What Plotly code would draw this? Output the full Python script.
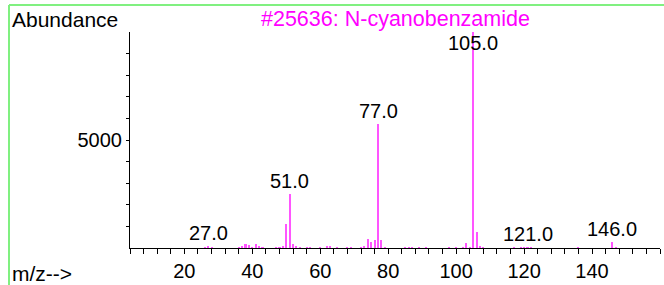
import plotly.graph_objects as go

# ---- data ----
mz = [26, 27, 28, 36, 37, 38, 39, 40, 41, 42, 43, 47, 48, 49, 50, 51, 52, 53, 54,
      56, 57, 60, 62, 63, 65, 68, 69, 72, 73, 74, 75, 76, 77, 78, 79, 85, 86, 87,
      89, 91, 98, 100, 102, 103, 104, 105, 106, 107, 108, 117, 119, 120, 121, 122,
      136, 146, 147]
abundance = [30, 110, 30, 30, 75, 200, 150, 40, 170, 50, 40, 30, 40, 110, 1090, 2500, 170, 60, 30,
             30, 40, 30, 50, 60, 30, 30, 30, 30, 110, 430, 280, 370, 5740, 385, 40, 30, 30, 30,
             30, 30, 30, 30, 30, 220, 40, 9990, 750, 50, 30, 30, 30, 30, 40, 30,
             30, 260, 40]
label_mz = [27, 51, 77, 105, 121, 146]
label_text = ["27.0", "51.0", "77.0", "105.0", "121.0", "146.0"]
title_text = "#25636: N-cyanobenzamide"
x_tick_vals = list(range(4, 161, 4))
x_tick_labels = [str(v) if v % 20 == 0 and v < 160 else "" for v in x_tick_vals]
y_tick_vals = list(range(1000, 10000, 1000))
y_tick_labels = ["5000" if v == 5000 else "" for v in y_tick_vals]

FONT = "Liberation Sans, Arial, sans-serif"
W, H = 664, 285
L, R, T, B = 130, 4, 32, 37
pw, ph = W - L - R, H - T - B


def px_x(p):
    return (p - L) / pw


def px_y(p):
    return (H - B - p) / ph


fig = go.Figure()
fig.add_trace(go.Bar(x=mz, y=abundance, width=0.6,
                     marker=dict(color="#ff55ff", line=dict(width=0)),
                     hoverinfo="x+y", showlegend=False))

lookup = dict(zip(mz, abundance))
for m, t in zip(label_mz, label_text):
    fig.add_annotation(x=m, y=min(lookup.get(m, 0), 8900), text=t, showarrow=False,
                       yanchor="bottom", xanchor="center", yshift=0,
                       font=dict(family=FONT, size=20, color="black"))

fig.add_annotation(xref="paper", yref="paper", x=0.5, y=px_y(19), text=title_text,
                   showarrow=False, xanchor="center", yanchor="middle",
                   font=dict(family=FONT, size=21.5, color="#ff00ff"))
fig.add_annotation(xref="paper", yref="paper", x=px_x(10), y=px_y(19), text="Abundance",
                   showarrow=False, xanchor="left", yanchor="middle",
                   font=dict(family=FONT, size=21, color="black"))
fig.add_annotation(xref="paper", yref="paper", x=px_x(10), y=px_y(273), text="m/z-->",
                   showarrow=False, xanchor="left", yanchor="middle",
                   font=dict(family=FONT, size=21, color="black"))

green = dict(color="#80f080", width=2)
fig.add_shape(type="line", xref="paper", yref="paper", x0=px_x(9), x1=px_x(664),
              y0=px_y(5), y1=px_y(5), line=green)
fig.add_shape(type="line", xref="paper", yref="paper", x0=px_x(9), x1=px_x(9),
              y0=px_y(5), y1=px_y(285), line=green)

fig.update_layout(
    width=W, height=H, margin=dict(l=L, r=R, t=T, b=B, pad=0),
    paper_bgcolor="white", plot_bgcolor="white", bargap=0,
    font=dict(family=FONT, size=20, color="black"),
    xaxis=dict(range=[4, 160], tickmode="array", tickvals=x_tick_vals, ticktext=x_tick_labels,
               ticks="outside", ticklen=5, tickwidth=1, tickcolor="black",
               showline=True, linecolor="black", linewidth=1, showgrid=False, zeroline=False,
               tickfont=dict(size=20), ticklabelstandoff=0),
    yaxis=dict(range=[0, 10000], tickmode="array", tickvals=y_tick_vals, ticktext=y_tick_labels,
               ticks="outside", ticklen=3, tickwidth=1, tickcolor="black",
               showline=True, linecolor="black", linewidth=1, showgrid=False, zeroline=False,
               tickfont=dict(size=20), ticklabelstandoff=0),
)

fig.write_html("out.html", config={"displayModeBar": False},
               post_script="document.body.style.margin='0';document.body.style.padding='0';"
                           "document.body.style.overflow='hidden';")
